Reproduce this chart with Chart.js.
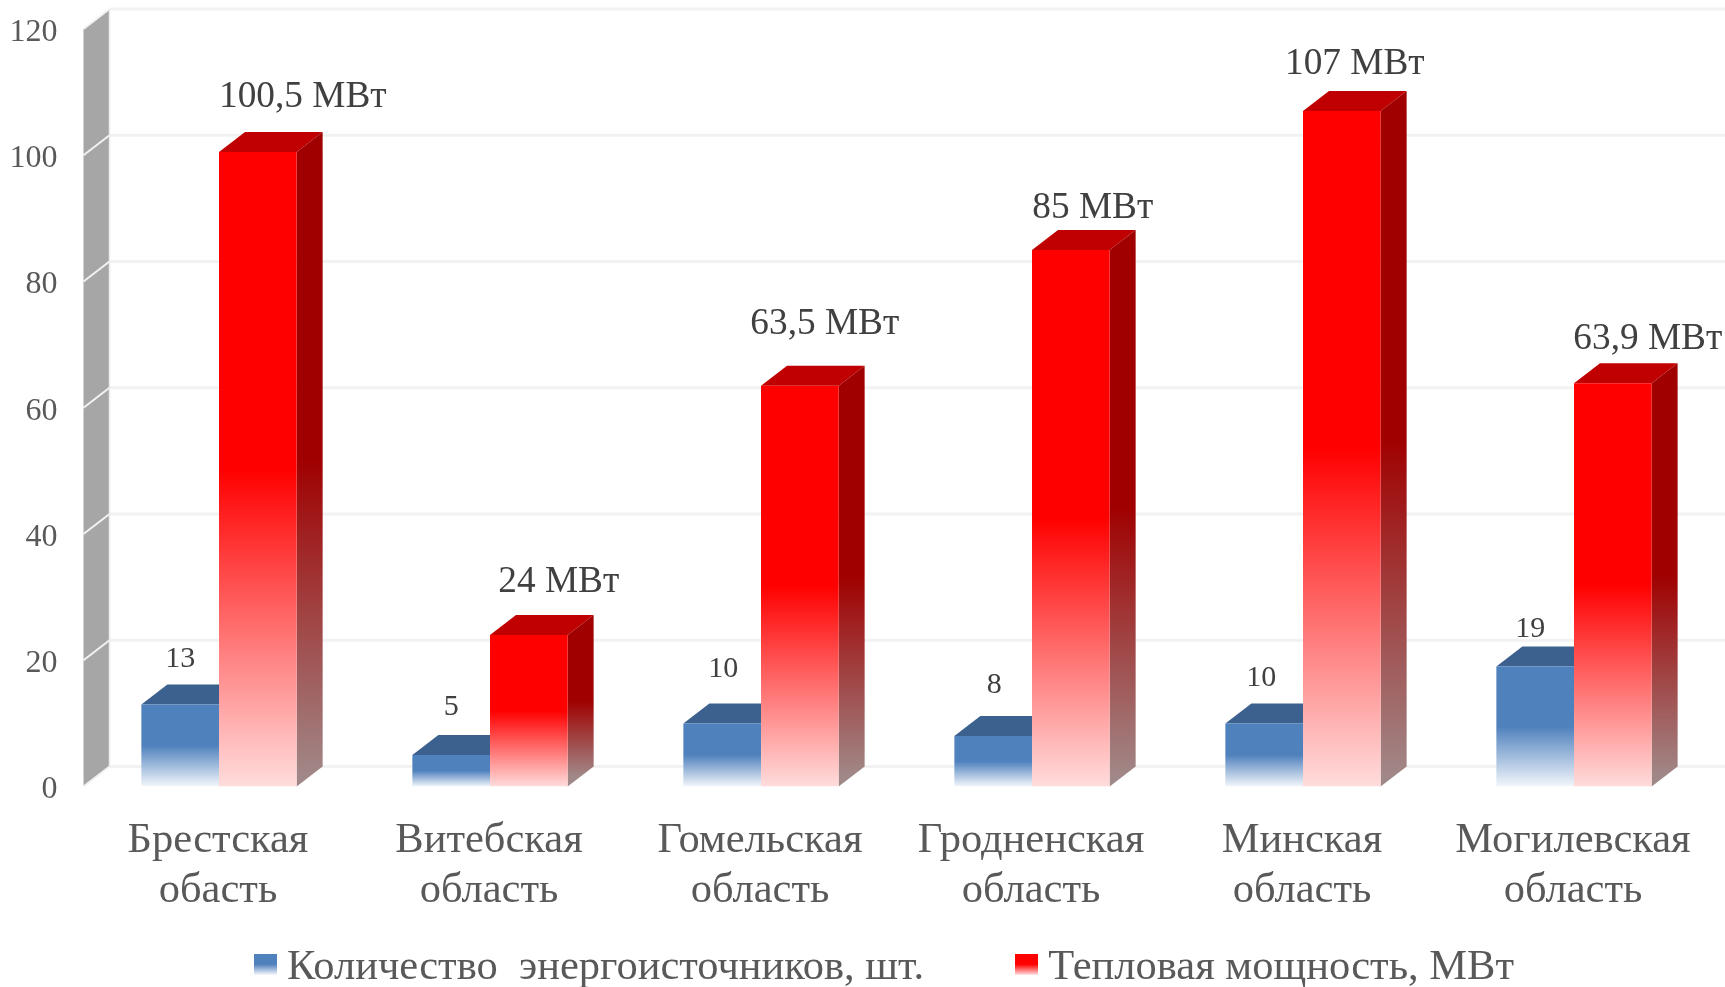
<!DOCTYPE html>
<html lang="ru">
<head>
<meta charset="utf-8">
<title>Энергоисточники по областям</title>
<style>
  html, body { margin: 0; padding: 0; background: #fff; }
  canvas { display: block; }
</style>
<script src="https://cdn.jsdelivr.net/npm/chart.js@4"></script>
</head>
<body>
<canvas id="chart" width="1725" height="987"></canvas>
<script>
// данные
var categories = [
  ["Брестская", "обасть"],
  ["Витебская", "область"],
  ["Гомельская", "область"],
  ["Гродненская", "область"],
  ["Минская", "область"],
  ["Могилевская", "область"]
];
var sourceCount = [13, 5, 10, 8, 10, 19];
var thermalPower = [100.5, 24, 63.5, 85, 107, 63.9];
var sourceLabels = ["13", "5", "10", "8", "10", "19"];
var powerLabels = ["100,5 МВт", "24 МВт", "63,5 МВт", "85 МВт", "107 МВт", "63,9 МВт"];
var seriesNames = ["Количество  энергоисточников, шт.", "Тепловая мощность, МВт"];

var FONT = '"Liberation Serif", "Times New Roman", serif';
var DEPTH_X = 26;
var DEPTH_Y = 20;

// сдвиг подписей относительно верхней грани столбца
var sourceNudge = [[0, -45], [0, -48], [1, -54], [1, -51], [-3, -45], [-5, -37]];
var powerNudge = [[45, -55], [30, -53], [25, -61], [22, -42], [13, -47], [35, -44]];

var palette = {
  blue: { front: "#4f81bd", fade: "#f2f6fb", top: "#3c618f" },
  red: { front: "#ff0000", fade: "#ffdcdc", top: "#c00000", side: "#a00000", sideFade: "#a18888" }
};

function fadeGradient(ctx, top, base, from, to) {
  var g = ctx.createLinearGradient(0, top, 0, base);
  g.addColorStop(0, from);
  g.addColorStop(0.5, from);
  g.addColorStop(1, to);
  return g;
}

function frontFill(colors) {
  return function (c) {
    if (c.type !== "data") return colors.front;
    var y = c.chart.scales.y;
    return fadeGradient(c.chart.ctx, y.getPixelForValue(c.raw), y.getPixelForValue(0), colors.front, colors.fade);
  };
}

// значок легенды; холст выше значка, чтобы поднять его относительно текста
function swatch(colors) {
  var cv = document.createElement("canvas");
  cv.width = 23;
  cv.height = 28;
  var sc = cv.getContext("2d");
  sc.fillStyle = fadeGradient(sc, 0, 21, colors.front, colors.fade);
  sc.fillRect(0, 0, 23, 21);
  return cv;
}

function quad(ctx, pts, fill) {
  ctx.beginPath();
  ctx.moveTo(pts[0][0], pts[0][1]);
  for (var i = 1; i < pts.length; i++) ctx.lineTo(pts[i][0], pts[i][1]);
  ctx.closePath();
  ctx.fillStyle = fill;
  ctx.fill();
}

// задняя стенка: серая боковина и линии сетки со смещением в глубину
var wallPlugin = {
  id: "wall",
  beforeDatasetsDraw: function (chart) {
    var ctx = chart.ctx;
    var y = chart.scales.y;
    var left = chart.chartArea.left;
    var top = y.getPixelForValue(120);
    var base = y.getPixelForValue(0);

    ctx.save();
    quad(ctx, [
      [left, top],
      [left + DEPTH_X, top - DEPTH_Y],
      [left + DEPTH_X, base - DEPTH_Y],
      [left, base]
    ], "#a6a6a6");

    y.ticks.forEach(function (t) {
      var py = y.getPixelForValue(t.value);
      ctx.strokeStyle = "#f2f2f2";
      ctx.lineWidth = 3;
      ctx.beginPath();
      ctx.moveTo(left + DEPTH_X, py - DEPTH_Y);
      ctx.lineTo(chart.width, py - DEPTH_Y);
      ctx.stroke();
      ctx.lineWidth = 2;
      ctx.beginPath();
      ctx.moveTo(left, py);
      ctx.lineTo(left + DEPTH_X, py - DEPTH_Y);
      ctx.stroke();
    });

    ctx.strokeStyle = "#ececec";
    ctx.lineWidth = 1.5;
    ctx.beginPath();
    ctx.moveTo(left + DEPTH_X, top - DEPTH_Y);
    ctx.lineTo(left + DEPTH_X, base - DEPTH_Y);
    ctx.stroke();
    ctx.restore();
  }
};

// верхняя и боковая грани столбцов; синий рисуется поверх красного,
// поэтому его верхняя грань обрезана по краю красного столбца
var boxPlugin = {
  id: "box",
  beforeDatasetDraw: function (chart, args) {
    var ctx = chart.ctx;
    var colors = args.index === 0 ? palette.blue : palette.red;
    ctx.save();
    args.meta.data.forEach(function (bar) {
      var x0 = bar.x - bar.width / 2;
      var x1 = bar.x + bar.width / 2;
      var topRight = colors.side ? x1 + DEPTH_X : x1;
      quad(ctx, [
        [x0, bar.y],
        [x1, bar.y],
        [topRight, bar.y - DEPTH_Y],
        [x0 + DEPTH_X, bar.y - DEPTH_Y]
      ], colors.top);
      if (colors.side) {
        quad(ctx, [
          [x1, bar.y],
          [x1 + DEPTH_X, bar.y - DEPTH_Y],
          [x1 + DEPTH_X, bar.base - DEPTH_Y],
          [x1, bar.base]
        ], fadeGradient(ctx, bar.y - DEPTH_Y / 2, bar.base - DEPTH_Y / 2, colors.side, colors.sideFade));
      }
    });
    ctx.restore();
  }
};

// подписи значений над столбцами
var valuePlugin = {
  id: "values",
  afterDatasetsDraw: function (chart) {
    var ctx = chart.ctx;
    ctx.save();
    ctx.textAlign = "center";
    ctx.textBaseline = "middle";
    ctx.fillStyle = "#404040";

    function put(meta, texts, nudge, size) {
      ctx.font = size + "px " + FONT;
      meta.data.forEach(function (bar, i) {
        ctx.fillText(texts[i], bar.x + nudge[i][0], bar.y + nudge[i][1]);
      });
    }
    put(chart.getDatasetMeta(0), sourceLabels, sourceNudge, 30);
    put(chart.getDatasetMeta(1), powerLabels, powerNudge, 37.3);
    ctx.restore();
  }
};

new Chart(document.getElementById("chart"), {
  type: "bar",
  data: {
    labels: categories,
    datasets: [
      { label: seriesNames[0], data: sourceCount, backgroundColor: frontFill(palette.blue) },
      { label: seriesNames[1], data: thermalPower, backgroundColor: frontFill(palette.red) }
    ]
  },
  plugins: [wallPlugin, boxPlugin, valuePlugin],
  options: {
    responsive: false,
    animation: false,
    layout: { padding: { top: 29, right: 15.5, left: 0, bottom: -12 } },
    datasets: { bar: { barPercentage: 1, categoryPercentage: 0.573, borderWidth: 0 } },
    scales: {
      x: {
        grid: { display: false },
        border: { display: false },
        ticks: {
          color: "#595959",
          font: { family: FONT, size: 42.5, lineHeight: 1.165 },
          padding: 22,
          labelOffset: -1,
          maxRotation: 0,
          autoSkip: false
        },
        afterFit: function (scale) { scale.height = 143; }
      },
      y: {
        min: 0,
        max: 120,
        grid: { display: false, drawTicks: false },
        border: { display: false },
        ticks: {
          stepSize: 20,
          color: "#595959",
          font: { family: FONT, size: 32 },
          padding: 26,
          labelOffset: 3.5
        },
        afterFit: function (scale) {
          scale.width = 83.5;
          scale.paddingTop = 0;
        }
      }
    },
    plugins: {
      tooltip: { enabled: false },
      legend: {
        position: "bottom",
        fullSize: false,
        labels: {
          color: "#595959",
          font: { family: FONT, size: 42.5 },
          usePointStyle: true,
          pointStyleWidth: 1,
          padding: 17,
          generateLabels: function (chart) {
            return chart.data.datasets.map(function (ds, i) {
              return {
                // широкие пробелы держат зазор и сдвиг элементов легенды
                text: ds.label + (i === 0 ? "\u2003\u2003" : "\u2004"),
                fontColor: "#595959",
                pointStyle: swatch(i === 0 ? palette.blue : palette.red),
                lineWidth: 0,
                datasetIndex: i
              };
            });
          }
        }
      }
    }
  }
});
</script>
</body>
</html>
